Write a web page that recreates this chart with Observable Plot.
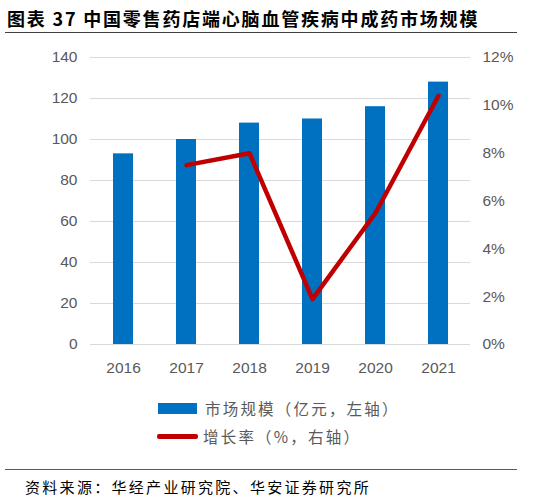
<!DOCTYPE html>
<html><head><meta charset="utf-8">
<script src="https://cdn.jsdelivr.net/npm/d3@7"></script>
<script src="https://cdn.jsdelivr.net/npm/@observablehq/plot@0.6"></script>
<style>
body{margin:0;background:#fff;width:541px;height:499px;position:relative;overflow:hidden;font-family:"Noto Sans CJK SC","Noto Sans",sans-serif;}
.abs{position:absolute;}
#title{left:7px;top:5px;font-size:18px;font-weight:bold;letter-spacing:1.8px;color:#000;white-space:nowrap;}
.hr{position:absolute;left:5px;width:512px;height:1px;background:#404040;}
.leg{font-size:15.5px;color:#595959;white-space:nowrap;letter-spacing:2.2px;}
#src{left:25px;top:476px;font-size:15px;letter-spacing:2.3px;color:#000;white-space:nowrap;}
</style></head>
<body>
<div id="title" class="abs">图表 37 中国零售药店端心脑血管疾病中成药市场规模</div>
<div class="hr" style="top:32px"></div>
<div id="chart" class="abs" style="left:0;top:0"></div>
<div class="abs" style="left:158px;top:403px;width:39px;height:11px;background:#0070C0"></div>
<div class="abs leg" style="left:205px;top:397px">市场规模（亿元，左轴）</div>
<div class="abs" style="left:157px;top:434px;width:41px;height:4.5px;border-radius:2px;background:#C00000"></div>
<div class="abs leg" style="left:203px;top:425px">增长率（%，右轴）</div>
<div class="hr" style="top:469px;background:#595959"></div>
<div id="src" class="abs">资料来源：华经产业研究院、华安证券研究所</div>
<script>
const years = ["2016","2017","2018","2019","2020","2021"];
const marketSize = [93, 100, 108, 110, 116, 128];
const growthYears = ["2017","2018","2019","2020","2021"];
const growthRate = [7.5, 8.0, 1.9, 5.5, 10.4];
const leftTicks = [0,20,40,60,80,100,120,140];
const rightTicks = [0,2,4,6,8,10,12];

const leftMax = 140, rightMax = 12, k = leftMax / rightMax;
const bars = years.map((y,i)=>({year:y, v:marketSize[i]}));
const line = growthYears.map((y,i)=>({year:y, g:growthRate[i]*k}));

const chart = Plot.plot({
  width: 541, height: 380,
  marginTop: 57, marginBottom: 36, marginLeft: 90, marginRight: 71,
  style: {fontFamily: "'Liberation Sans', Arial, sans-serif", fontSize: "15.5px", color: "#595959", background: "transparent"},
  x: {domain: years, paddingInner: 0.69, paddingOuter: 0.345, label: null},
  y: {domain: [0, leftMax], label: null},
  marks: [
    Plot.gridY(leftTicks, {stroke: "#d9d9d9", strokeOpacity: 1}),
    Plot.barY(bars, {x: "year", y: "v", fill: "#0070C0"}),
    Plot.line(line, {x: "year", y: "g", stroke: "#C00000", strokeWidth: 4.5}),
    Plot.axisY({ticks: leftTicks, tickSize: 0, tickPadding: 13, label: null}),
    Plot.axisY({anchor: "right", ticks: rightTicks.map(d=>d*k), tickFormat: d => Math.round(d/k) + "%", tickSize: 0, tickPadding: 12, label: null}),
    Plot.axisX({tickSize: 0, tickPadding: 17, label: null})
  ]
});
document.getElementById("chart").appendChild(chart);
</script>
</body></html>
